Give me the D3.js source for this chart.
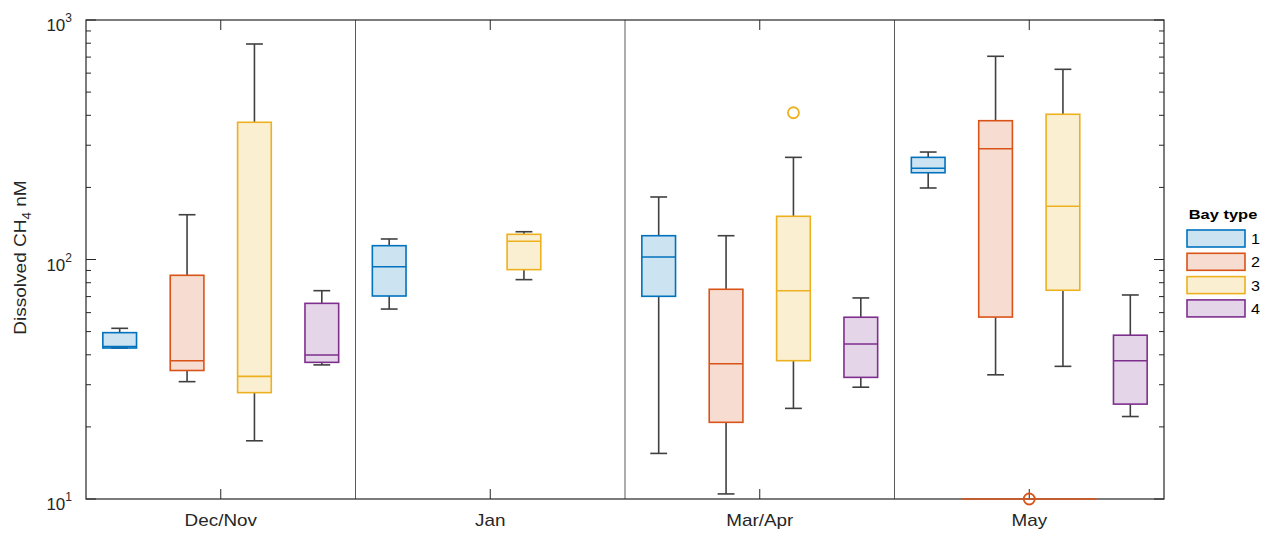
<!DOCTYPE html>
<html>
<head>
<meta charset="utf-8">
<script src="https://cdn.jsdelivr.net/npm/d3@7"></script>
<style>
  body { margin: 0; background: #fff; }
  text { font-family: "Liberation Sans", Arial, sans-serif; }
</style>
</head>
<body>
<div id="chart_div"></div>
<script>
// categories
var groups = ['Dec/Nov', 'Jan', 'Mar/Apr', 'May'];
var bay_types = ['1', '2', '3', '4'];
var bay_colors = ['#0072BD', '#D95319', '#EDB120', '#7E2F8E'];

// box stats: [group, bay type, lower whisker, q1, median, q3, upper whisker]
var box_stats = [
    ['Dec/Nov', '1', 42.7, 42.7, 43.3, 49.5, 51.6],
    ['Dec/Nov', '2', 30.9, 34.4, 37.8, 85.9, 153.8],
    ['Dec/Nov', '3', 17.5, 27.8, 32.5, 374, 794],
    ['Dec/Nov', '4', 36.3, 37.2, 39.9, 65.6, 74.1],
    ['Jan', '1', 62.1, 70.4, 93.3, 114.2, 121.8],
    ['Jan', '3', 82.4, 90.7, 119.1, 127.4, 130.6],
    ['Mar/Apr', '1', 15.5, 70.2, 102.4, 125.7, 182.4],
    ['Mar/Apr', '2', 10.5, 20.9, 36.7, 75.1, 125.7],
    ['Mar/Apr', '3', 23.9, 37.8, 74.1, 151.5, 267],
    ['Mar/Apr', '4', 29.3, 32.2, 44.4, 57.4, 69.1],
    ['May', '1', 198.9, 230.3, 240.4, 267, 281],
    ['May', '2', 33.0, 57.5, 290, 379.8, 705.5],
    ['May', '3', 35.8, 74.4, 166.8, 404, 622.5],
    ['May', '4', 22.1, 24.9, 37.8, 48.3, 71.1]
];

// outliers: [group, bay type, value]
var outliers = [
    ['Mar/Apr', '3', 410]
];

// values at or below zero, drawn clipped onto the axis floor: [group, bay type]
var clipped = [
    ['May', '2']
];

// y ticks
var y_major = [10, 100, 1000];
var y_exponents = ['1', '2', '3'];

var margin = { top: 20, right: 102, bottom: 34, left: 86 };
var total_width = 1266;
var total_height = 533;
var width = total_width - margin.left - margin.right;
var height = total_height - margin.top - margin.bottom;

var axis_color = '#262626';
var whisker_color = '#404040';

var svg = d3.select('#chart_div')
    .append('svg')
    .attr('width', total_width)
    .attr('height', total_height);

var g = svg.append('g')
    .attr('transform', `translate(${margin.left}, ${margin.top})`);

var x0 = d3.scaleBand().domain(groups).range([0, width]).padding(0);
var x1 = d3.scaleBand().domain(bay_types).range([0, x0.bandwidth()]).padding(0);
var y = d3.scaleLog().domain([10, 1000]).range([height, 0]);
var color = d3.scaleOrdinal().domain(bay_types).range(bay_colors);

var box_w = x1.bandwidth() * 0.5;
var cap_w = box_w * 0.5;

// group dividers
g.selectAll('.divider')
    .data(groups.slice(1))
    .enter()
    .append('line')
    .attr('x1', function(d) { return x0(d); })
    .attr('x2', function(d) { return x0(d); })
    .attr('y1', 0)
    .attr('y2', height)
    .attr('stroke', '#5a5a5a')
    .attr('stroke-width', 1);

// minor y ticks
var minor_vals = [];
[10, 100].forEach(function(base) {
    for (var k = 2; k <= 9; k++) minor_vals.push(base * k);
});

function draw_y_ticks(side) {
    var x_at = side === 'left' ? 0 : width;
    var dir = side === 'left' ? 1 : -1;
    g.append('g').selectAll('line')
        .data(minor_vals)
        .enter()
        .append('line')
        .attr('x1', x_at)
        .attr('x2', x_at + dir * 5)
        .attr('y1', function(d) { return y(d); })
        .attr('y2', function(d) { return y(d); })
        .attr('stroke', axis_color);
    g.append('g').selectAll('line')
        .data(y_major)
        .enter()
        .append('line')
        .attr('x1', x_at)
        .attr('x2', x_at + dir * 10)
        .attr('y1', function(d) { return y(d); })
        .attr('y2', function(d) { return y(d); })
        .attr('stroke', axis_color);
}
draw_y_ticks('left');
draw_y_ticks('right');

// x ticks, bottom and top
[height, 0].forEach(function(y_at) {
    var dir = y_at === 0 ? 1 : -1;
    g.append('g').selectAll('line')
        .data(groups)
        .enter()
        .append('line')
        .attr('x1', function(d) { return x0(d) + x0.bandwidth() / 2; })
        .attr('x2', function(d) { return x0(d) + x0.bandwidth() / 2; })
        .attr('y1', y_at)
        .attr('y2', y_at + dir * 10)
        .attr('stroke', axis_color);
});

// boxes
var boxes = g.selectAll('.box')
    .data(box_stats)
    .enter()
    .append('g')
    .attr('class', 'box')
    .attr('transform', function(d) {
        return `translate(${x0(d[0]) + x1(d[1]) + x1.bandwidth() / 2}, 0)`;
    });

// whiskers
boxes.append('line')
    .attr('x1', 0).attr('x2', 0)
    .attr('y1', function(d) { return y(d[6]); })
    .attr('y2', function(d) { return y(d[5]); })
    .attr('stroke', whisker_color)
    .attr('stroke-width', 1.6);
boxes.append('line')
    .attr('x1', 0).attr('x2', 0)
    .attr('y1', function(d) { return y(d[3]); })
    .attr('y2', function(d) { return y(d[2]); })
    .attr('stroke', whisker_color)
    .attr('stroke-width', 1.6);
boxes.append('line')
    .attr('x1', -cap_w / 2).attr('x2', cap_w / 2)
    .attr('y1', function(d) { return y(d[6]); })
    .attr('y2', function(d) { return y(d[6]); })
    .attr('stroke', whisker_color)
    .attr('stroke-width', 1.6);
boxes.append('line')
    .attr('x1', -cap_w / 2).attr('x2', cap_w / 2)
    .attr('y1', function(d) { return y(d[2]); })
    .attr('y2', function(d) { return y(d[2]); })
    .attr('stroke', whisker_color)
    .attr('stroke-width', 1.6);

boxes.append('rect')
    .attr('x', -box_w / 2)
    .attr('width', box_w)
    .attr('y', function(d) { return y(d[5]); })
    .attr('height', function(d) { return y(d[3]) - y(d[5]); })
    .attr('fill', function(d) { return color(d[1]); })
    .attr('fill-opacity', 0.2)
    .attr('stroke', function(d) { return color(d[1]); })
    .attr('stroke-width', 1.6);

boxes.append('line')
    .attr('x1', -box_w / 2).attr('x2', box_w / 2)
    .attr('y1', function(d) { return y(d[4]); })
    .attr('y2', function(d) { return y(d[4]); })
    .attr('stroke', function(d) { return color(d[1]); })
    .attr('stroke-width', 1.6);

// outliers
g.selectAll('.outlier')
    .data(outliers)
    .enter()
    .append('circle')
    .attr('cx', function(d) { return x0(d[0]) + x1(d[1]) + x1.bandwidth() / 2; })
    .attr('cy', function(d) { return y(d[2]); })
    .attr('r', 5.5)
    .attr('fill', 'none')
    .attr('stroke', function(d) { return color(d[1]); })
    .attr('stroke-width', 1.8);

// axis frame
g.append('rect')
    .attr('x', 0).attr('y', 0)
    .attr('width', width).attr('height', height)
    .attr('fill', 'none')
    .attr('stroke', axis_color)
    .attr('stroke-width', 1.2);

// clipped values along the floor
clipped.forEach(function(d) {
    var gx = x0(d[0]);
    g.append('line')
        .attr('x1', gx + x1(bay_types[1]))
        .attr('x2', gx + x1(bay_types[2]) + x1.bandwidth())
        .attr('y1', height).attr('y2', height)
        .attr('stroke', color(d[1]))
        .attr('stroke-width', 1.6);
    g.append('circle')
        .attr('cx', gx + x0.bandwidth() / 2)
        .attr('cy', height)
        .attr('r', 5.5)
        .attr('fill', 'none')
        .attr('stroke', color(d[1]))
        .attr('stroke-width', 1.8);
});

// x labels (the original font runs wide, hence the scaleX)
g.selectAll('.xlabel')
    .data(groups)
    .enter()
    .append('text')
    .attr('transform', function(d) {
        return `translate(${x0(d) + x0.bandwidth() / 2}, ${height + 27}) scale(1.18, 1)`;
    })
    .attr('text-anchor', 'middle')
    .style('font-size', '16px')
    .style('fill', axis_color)
    .text(function(d) { return d; });

// y labels 10^n
var ylabels = g.selectAll('.ylabel')
    .data(y_major)
    .enter()
    .append('text')
    .attr('x', -14)
    .attr('y', function(d) { return y(d) + 11; })
    .attr('text-anchor', 'end')
    .style('font-size', '17px')
    .style('fill', axis_color);
ylabels.append('tspan').text('10');
ylabels.append('tspan')
    .attr('dy', -9)
    .style('font-size', '12px')
    .text(function(d, i) { return y_exponents[i]; });

// y title
var ytitle = svg.append('text')
    .attr('transform', `translate(26, ${margin.top + height / 2 - 2}) rotate(-90) scale(1.12, 1)`)
    .attr('text-anchor', 'middle')
    .style('font-size', '17px')
    .style('fill', axis_color);
ytitle.append('tspan').text('Dissolved CH');
ytitle.append('tspan').attr('dy', 5).style('font-size', '12px').text('4');
ytitle.append('tspan').attr('dy', -5).text(' nM');

// legend
var legend = svg.append('g')
    .attr('transform', 'translate(1187, 0)');
legend.append('text')
    .attr('transform', 'translate(36, 219) scale(1.22, 1)')
    .attr('text-anchor', 'middle')
    .style('font-size', '13.5px')
    .style('font-weight', 700)
    .style('fill', '#000')
    .text('Bay type');
var items = legend.selectAll('.item')
    .data(bay_types)
    .enter()
    .append('g')
    .attr('transform', function(d, i) { return `translate(0, ${230 + i * 23.3})`; });
items.append('rect')
    .attr('x', 0).attr('y', 0)
    .attr('width', 58).attr('height', 17)
    .attr('fill', function(d) { return color(d); })
    .attr('fill-opacity', 0.2)
    .attr('stroke', function(d) { return color(d); })
    .attr('stroke-width', 1.6);
items.append('text')
    .attr('transform', 'translate(64, 14) scale(1.15, 1)')
    .style('font-size', '14px')
    .style('fill', '#000')
    .text(function(d) { return d; });
</script>
</body>
</html>
